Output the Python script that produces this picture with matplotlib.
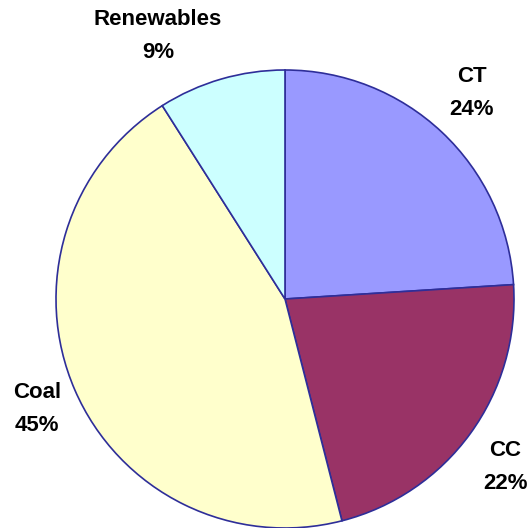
import matplotlib
matplotlib.use("Agg")
import matplotlib.pyplot as plt

# generation mix shares (percent)
sources = ["CT", "CC", "Coal", "Renewables"]
shares = [24, 22, 45, 9]
colors = ["#9999FF", "#993366", "#FFFFCC", "#CCFFFF"]
# label anchor points (pixels, from top-left)
label_pos = [(472, 93), (505, 467), (37, 409), (158, 36)]

W, H = 531, 528
fig = plt.figure(figsize=(W / 100, H / 100), dpi=100)
ax = fig.add_axes([0, 0, 1, 1])

ax.pie(shares, colors=colors, startangle=90, counterclock=False,
       center=(285, H - 299), radius=229,
       wedgeprops=dict(edgecolor="#2E2E99", linewidth=1.2))

# pie() resets the limits, so set the pixel frame afterwards
ax.set_xlim(0, W)
ax.set_ylim(0, H)
ax.set_aspect("equal")
ax.axis("off")

for name, val, (x, y) in zip(sources, shares, label_pos):
    ax.text(x, H - y, "{0}\n{1}%".format(name, val), ha="center", va="center",
            fontsize=16, fontweight="bold", family="Liberation Sans",
            linespacing=1.75)

fig.savefig("out.png", dpi=100)
